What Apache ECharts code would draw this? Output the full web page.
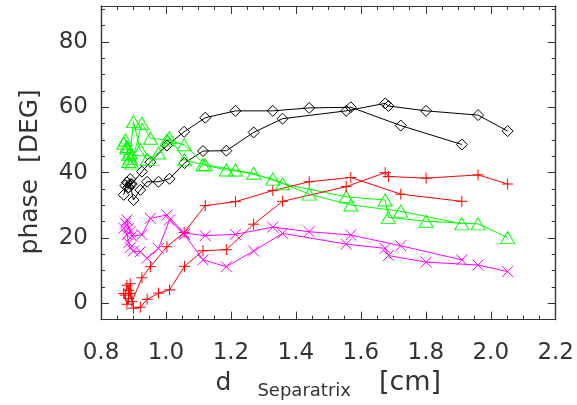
<!DOCTYPE html>
<html>
<head>
<meta charset="utf-8">
<script src="https://cdn.jsdelivr.net/npm/echarts@6/dist/echarts.min.js"></script>
<style>
  html, body { margin: 0; padding: 0; background: #fff; }
  #chart { width: 577px; height: 405px; }
</style>
</head>
<body>
<div id="chart"></div>
<script>
// d_separatrix positions of the two scans
var xScan1 = [0.875, 0.88, 0.885, 0.89, 0.895, 0.926, 0.952, 1.003, 1.056, 1.121, 1.214, 1.329, 1.441, 1.569, 1.723, 1.911];
var xScan2 = [0.87, 0.88, 0.885, 0.89, 0.90, 0.921, 0.942, 0.977, 1.011, 1.057, 1.114, 1.186, 1.27, 1.359, 1.555, 1.675, 1.685, 1.801, 1.961, 2.052];

// phase [deg], black diamonds
var blackScan1 = [36, 37, 35.5, 38, 36.5, 40.3, 43.2, 48.3, 52.5, 56.8, 58.9, 58.9, 59.8, 60.0, 54.4, 48.6];
var blackScan2 = [33.2, 37, 35.5, 36.5, 31.6, 34.7, 37.2, 37.2, 38.1, 42.9, 46.6, 46.7, 52.3, 56.5, 58.9, 61.2, 60.4, 58.9, 57.6, 52.7];
// green triangles
var greenScan1 = [50, 48, 45.5, 44.4, 42.9, 55.1, 50.5, 50.0, 48.5, 42.4, 40.8, 38.0, 33.4, 30.1, 28.2, 24.3];
var greenScan2 = [49, 47.5, 43.4, 46, 55.6, 47, 44, 46, 50.7, 43.9, 42.4, 40.8, 39.8, 36.6, 32.6, 31.6, 26.3, 25.1, 24.3, 20.1];
// red plus
var redScan1 = [2.5, 5.5, 4, 3, 0.5, 7.8, 11.2, 17.3, 21.7, 29.9, 31.1, 34.5, 37.2, 38.5, 33.4, 31.2];
var redScan2 = [3, -0.3, 1.5, 6, -1.5, -1.2, 1.2, 3.1, 4.1, 11.3, 16.1, 16.4, 24.2, 31.2, 35.7, 40.0, 38.8, 38.3, 39.3, 36.5];
// magenta crosses
var magentaScan1 = [24.5, 25.5, 23, 22, 20.5, 21, 26.0, 27.0, 21.5, 20.7, 21.1, 23.3, 21.9, 20.9, 17.6, 13.3];
var magentaScan2 = [23, 21, 18.5, 17, 16, 15.8, 13.8, 16.8, 25.5, 21.0, 13.3, 11.2, 16.0, 21.4, 18.1, 16.8, 14.6, 12.6, 11.7, 9.7];

var yMajor = [0, 20, 40, 60, 80];
var yMinor = [-5, 5, 10, 15, 25, 30, 35, 45, 50, 55, 65, 70, 75, 85, 90];

var FONT = 'DejaVu Sans';
var AX = '#333';

function pairs(xs, ys) {
  return xs.map(function (x, i) { return [x, ys[i]]; });
}

var plusPath = 'path://M5,0L5,10M0,5L10,5';
var crossPath = 'path://M0,0L10,10M0,10L10,0';

function mk(name, xs, ys, color, symbol, size) {
  var hollow = symbol !== plusPath && symbol !== crossPath;
  return {
    name: name,
    type: 'line',
    xAxisIndex: 0,
    yAxisIndex: 0,
    data: pairs(xs, ys),
    symbol: symbol,
    symbolSize: size,
    showAllSymbol: true,
    animation: false,
    lineStyle: { color: color, width: 1 },
    itemStyle: { color: hollow ? 'rgba(0,0,0,0)' : color, borderColor: color, borderWidth: 1 },
    emphasis: { disabled: true }
  };
}

function yAx(pos, ticks, len, labels) {
  return {
    type: 'value', position: pos, min: -5, max: 91,
    axisLine: { show: true, lineStyle: { color: AX, width: 1.2 } },
    axisTick: { show: true, inside: true, length: len, customValues: ticks, lineStyle: { color: AX } },
    axisLabel: labels ? { show: true, customValues: yMajor, margin: 13, fontSize: 23, fontFamily: FONT, color: AX } : { show: false },
    splitLine: { show: false }
  };
}

function xAx(pos, labels) {
  var a = {
    type: 'value', position: pos, min: 0.8, max: 2.2, interval: 0.2,
    axisLine: { show: true, onZero: false, lineStyle: { color: AX, width: 1.2 } },
    axisTick: { show: true, inside: true, length: 8, lineStyle: { color: AX } },
    minorTick: { show: true, splitNumber: 4, length: 4, lineStyle: { color: AX } },
    axisLabel: labels ? {
      show: true, margin: 22, fontSize: 23, fontFamily: FONT, color: AX,
      formatter: function (v) { return v.toFixed(1); }
    } : { show: false },
    splitLine: { show: false }
  };
  if (labels) {
    a.name = '{d|d}{s|Separatrix}{u|[cm]}';
    a.nameLocation = 'middle';
    a.nameGap = 42;
    a.nameTextStyle = {
      rich: {
        d: { fontSize: 25, fontFamily: FONT, color: AX, padding: [0, 26, 0, 0] },
        s: { fontSize: 18, fontFamily: FONT, color: AX, padding: [16, 28, 0, 0] },
        u: { fontSize: 27, fontFamily: FONT, color: AX }
      }
    };
  }
  return a;
}

var chart = echarts.init(document.getElementById('chart'), null, { renderer: 'canvas' });

var yAxes = [
  yAx('left', yMajor, 8, true),
  yAx('left', yMinor, 4, false),
  yAx('right', yMajor, 8, false),
  yAx('right', yMinor, 4, false)
];
yAxes[0].name = 'phase  [DEG]';
yAxes[0].nameLocation = 'middle';
yAxes[0].nameGap = 58;
yAxes[0].nameRotate = 90;
yAxes[0].nameTextStyle = { fontSize: 25, fontFamily: FONT, color: AX, padding: [0, 18, 0, 0] };

chart.setOption({
  backgroundColor: '#fff',
  animation: false,
  grid: { left: 101, right: 21, top: 6, bottom: 85, containLabel: false },
  xAxis: [xAx('bottom', true), xAx('top', false)],
  yAxis: yAxes,
  series: [
    mk('black 1', xScan1, blackScan1, '#000000', 'diamond', 11),
    mk('black 2', xScan2, blackScan2, '#000000', 'diamond', 11),
    mk('green 1', xScan1, greenScan1, '#00ff00', 'triangle', [14, 12]),
    mk('green 2', xScan2, greenScan2, '#00ff00', 'triangle', [14, 12]),
    mk('red 1', xScan1, redScan1, '#ff0000', plusPath, 11),
    mk('red 2', xScan2, redScan2, '#ff0000', plusPath, 11),
    mk('magenta 1', xScan1, magentaScan1, '#ff00ff', crossPath, 11),
    mk('magenta 2', xScan2, magentaScan2, '#ff00ff', crossPath, 11)
  ]
});
</script>
</body>
</html>
